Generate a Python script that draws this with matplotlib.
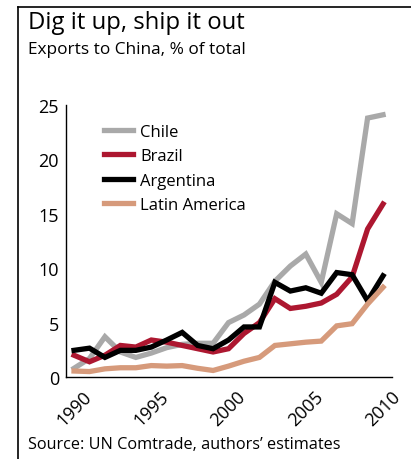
import matplotlib.pyplot as plt
from matplotlib.lines import Line2D

years = list(range(1990, 2011))

chile = [0.8, 1.7, 3.7, 2.3, 1.8, 2.2, 2.7, 3.0, 3.1, 3.1, 5.0, 5.7, 6.7, 8.8, 10.2,
         11.3, 8.7, 15.0, 14.1, 23.8, 24.1]
brazil = [2.0, 1.4, 2.0, 2.9, 2.75, 3.4, 3.2, 2.9, 2.6, 2.3, 2.6, 4.0, 5.0, 7.2, 6.3,
          6.5, 6.8, 7.6, 9.2, 13.6, 15.9]
argentina = [2.45, 2.65, 1.8, 2.45, 2.45, 2.75, 3.4, 4.1, 2.9, 2.6, 3.4, 4.6, 4.6, 8.7, 7.9,
             8.2, 7.7, 9.6, 9.4, 7.0, 9.3]
latam = [0.55, 0.5, 0.75, 0.85, 0.85, 1.05, 1.0, 1.05, 0.8, 0.6, 1.0, 1.45, 1.8, 2.9, 3.05,
         3.2, 3.3, 4.7, 4.9, 6.7, 8.25]

series = [('Chile', chile, '#A9A9A9'),
          ('Brazil', brazil, '#AD1730'),
          ('Argentina', argentina, '#000000'),
          ('Latin America', latam, '#D69A7B')]

xticks = [1990, 1995, 2000, 2005, 2010]
yticks = [0, 5, 10, 15, 20, 25]

plt.rcParams['font.family'] = ['Open Sans', 'DejaVu Sans']

fig = plt.figure(figsize=(4.11, 4.6), dpi=100)
ax = fig.add_axes([66/411, 1 - 378/460, 326/411, 272/460])

for name, vals, col in series:
    ax.plot(years, vals, color=col, lw=3.8, label=name, solid_joinstyle='miter')

ax.set_xlim(1989.48, 2010.58)
ax.set_ylim(0, 25)
ax.set_xticks(xticks)
ax.set_yticks(yticks)
ax.tick_params(axis='y', length=0, labelsize=13, pad=5)
ax.tick_params(axis='x', length=0, labelsize=13, pad=7)
for lbl in ax.get_xticklabels():
    lbl.set_rotation(45)
    lbl.set_ha('center')
for s in ['top', 'right']:
    ax.spines[s].set_visible(False)
for s in ['left', 'bottom']:
    ax.spines[s].set_linewidth(1.0)

leg = ax.legend(loc='upper left', bbox_to_anchor=(0.095, 0.955), frameon=False,
                fontsize=12, handlelength=1.75, handletextpad=0.45,
                labelspacing=0.5, borderaxespad=0)

# outer frame (left + top)
fig.add_artist(Line2D([18/411, 18/411], [0, 1 - 8/460], color='black', lw=1.2,
                      transform=fig.transFigure))
fig.add_artist(Line2D([18/411, 1], [1 - 8/460, 1 - 8/460], color='black', lw=1.2,
                      transform=fig.transFigure))

fig.text(28/411, 1 - 29/460, 'Dig it up, ship it out', fontsize=17.2,
         ha='left', va='baseline')
fig.text(28/411, 1 - 54/460, 'Exports to China, % of total', fontsize=12.4,
         ha='left', va='baseline')
fig.text(28/411, 1 - 449/460, 'Source: UN Comtrade, authors\u2019 estimates',
         fontsize=11.7, ha='left', va='baseline')

fig.savefig('out.png', dpi=100, facecolor='white')
